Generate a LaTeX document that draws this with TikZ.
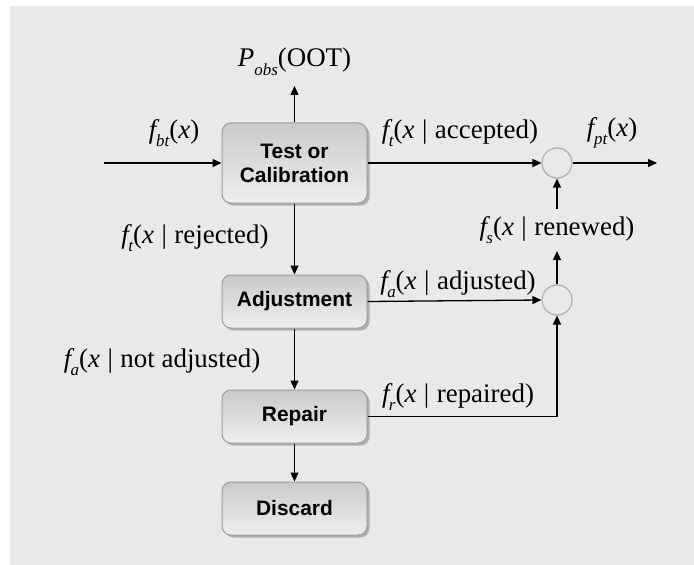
\documentclass[tikz,border=0pt]{standalone}
\usepackage{fontspec}
\setmainfont{Liberation Serif}
\newfontfamily\boxfont{Liberation Sans}
\usetikzlibrary{arrows.meta,shadows}
\definecolor{bg}{RGB}{233,233,233}
\definecolor{boxtop}{RGB}{202,202,202}
\definecolor{boxbot}{RGB}{238,238,238}
\definecolor{boxline}{RGB}{158,158,158}
\definecolor{shadowc}{RGB}{175,175,175}
\definecolor{circline}{RGB}{175,175,175}
\newcommand{\mysub}[1]{\raisebox{-0.32em}{\fontsize{17}{17}\selectfont\itshape #1}}
\newcommand{\cond}[3]{{\itshape #1}\kern-0.02em\mysub{#2}(\textit{x}\hspace{0.28em}|\hspace{0.28em}#3)}
\begin{document}
\begin{tikzpicture}[x=1bp,y=-1bp,
  procbox/.style={draw=boxline, line width=1bp, rounded corners=9bp,
    top color=boxtop, bottom color=boxbot, minimum width=145bp,
    align=center, font=\boxfont\bfseries\fontsize{21}{24}\selectfont,
    drop shadow={shadow xshift=2.5bp, shadow yshift=-2.5bp, fill=shadowc, opacity=1}},
  junction/.style={circle, draw=circline, line width=1.2bp, fill=bg, minimum size=30bp, inner sep=0pt},
  lbl/.style={font=\fontsize{27}{32}\selectfont, inner sep=0pt},
  arr/.style={line width=1.3bp, -{Triangle[length=9bp,width=8bp]}}]
\useasboundingbox (0,0) rectangle (694,565);
\fill[white] (0,0) rectangle (694,565);
\fill[bg] (10,6) rectangle (694,565);

\node[procbox, minimum height=80bp] (test) at (294.5,163) {Test or\\Calibration};
\node[procbox, minimum height=53bp] (adj) at (294.5,301.5) {Adjustment};
\node[procbox, minimum height=53bp] (rep) at (294.5,416.5) {Repair};
\node[procbox, minimum height=53bp] (dis) at (294.5,508.5) {Discard};

\node[junction] (c1) at (557,163) {};
\node[junction] (c2) at (557,300) {};

\coordinate (in) at (104,163);
\coordinate (out) at (657,163);
\coordinate (ptip) at (294.5,86);

\node[lbl] (pobs) at (294.5,62) {{\itshape P}\mysub{obs}(OOT)};
\node[lbl] (fbt) at (174,133) {{\itshape f}\mysub{bt}(\textit{x})};
\node[lbl] (facc) at (460,133) {\cond{f}{t}{accepted}};
\node[lbl] (fpt) at (612,133) {{\itshape f}\mysub{pt}(\textit{x})};
\node[lbl, inner ysep=7bp] (fs) at (557,230) {\cond{f}{s}{renewed}};
\node[lbl] (frej) at (195,238) {\cond{f}{t}{rejected}};
\node[lbl] (fadj) at (458,284) {\cond{f}{a}{adjusted}};
\node[lbl] (fnot) at (162,362) {\cond{f}{a}{not adjusted}};
\node[lbl] (frep) at (458,397) {\cond{f}{r}{repaired}};

\draw[arr] (in) -- (test.west);
\draw[arr] (test.north) -- (ptip);
\draw[arr] (test.east) -- (c1.west);
\draw[arr] (c1.east) -- (out);
\draw[arr] (test.south) -- (adj.north);
\draw[arr] (adj.east) -- (c2.west);
\draw[arr] (adj.south) -- (rep.north);
\draw[arr] (rep.south) -- (dis.north);
\draw[arr] (rep.east) -| (c2.south);
\draw[arr] (c2.north) -- (fs.south);
\draw[arr] (fs.north) -- (c1.south);
\end{tikzpicture}
\end{document}
